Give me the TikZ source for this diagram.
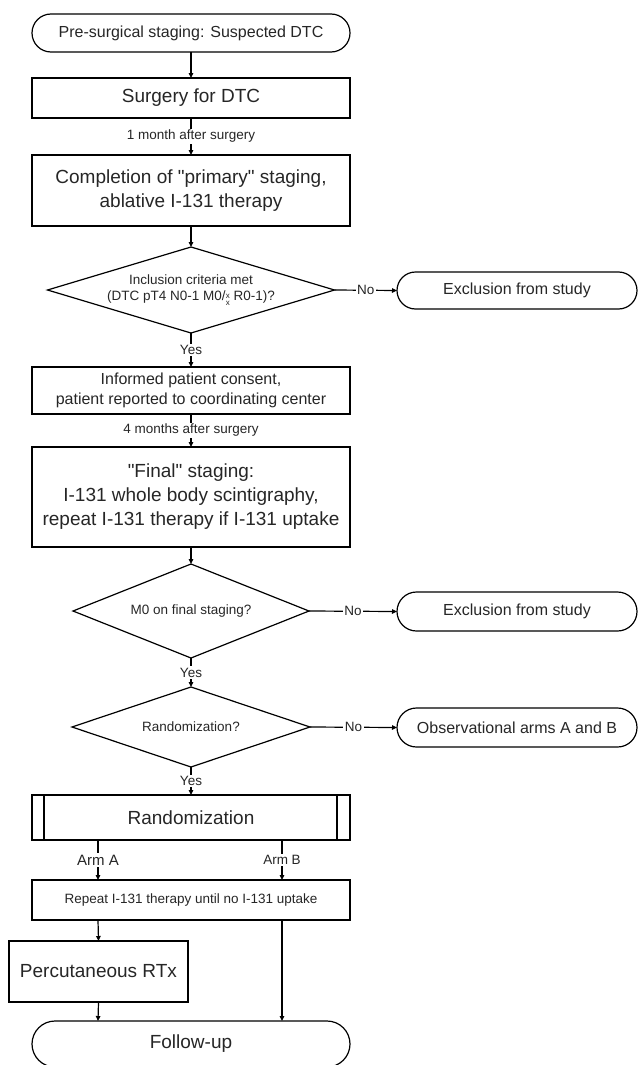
\documentclass[tikz,border=0pt]{standalone}
\usepackage{fontspec}
\setmainfont{Liberation Sans}[Ligatures=TeXOff]
\usetikzlibrary{shapes.geometric,shapes.misc,arrows.meta}
\tikzset{
  base/.style={draw=black, line width=1.2pt, inner sep=0pt, outer sep=0pt, align=center, text=black!85},
  boxnode/.style={base, rectangle, minimum width=318pt},
  termnode/.style={base, rounded rectangle, minimum width=240pt},
  decnode/.style={base, diamond, font=\fontsize{13.5}{16}\selectfont},
  bigfont/.style={font=\fontsize{19}{24}\selectfont},
  midfont/.style={font=\fontsize{16}{20}\selectfont},
  conn/.style={line width=1.2pt, -{Triangle[length=5pt,width=4.5pt]}},
  lab/.style={fill=white, inner sep=1.5pt, text=black!85, font=\fontsize{13.5}{16}\selectfont},
}
\begin{document}
\begin{tikzpicture}[x=1pt,y=-1pt]
\useasboundingbox (0,0) rectangle (638,1065);
\clip (0,0) rectangle (638,1065);
% nodes
\node[base, rounded rectangle, minimum width=318pt, minimum height=38pt, midfont] (pre) at (191,33) {Pre-surgical staging: Suspected DTC};
\node[boxnode, minimum height=40pt, bigfont] (surg) at (191,98) {Surgery for DTC};
\node[boxnode, minimum height=71pt, bigfont] (comp) at (191,190.5) {Completion of "primary" staging,\\ablative I-131 therapy};
\node[decnode, aspect=3.6, minimum width=287pt, minimum height=86pt] (d1) at (191,290) {Inclusion criteria met\\(DTC pT4 N0-1 M0/\raisebox{-5pt}{\fontsize{8}{8.5}\selectfont\shortstack{x\\x}} R0-1)?};
\node[termnode, minimum height=37pt, midfont] (ex1) at (517,290.5) {Exclusion from study};
\node[boxnode, minimum height=47pt, midfont] (inf) at (191,390.5) {Informed patient consent,\\patient reported to coordinating center};
\node[boxnode, minimum height=100pt, bigfont] (fin) at (191,497) {"Final" staging:\\I-131 whole body scintigraphy,\\repeat I-131 therapy if I-131 uptake};
\node[decnode, aspect=2.6, minimum width=236pt, minimum height=94pt] (d2) at (191,611) {M0 on final staging?};
\node[termnode, minimum height=39pt, midfont] (ex2) at (517,611.5) {Exclusion from study};
\node[decnode, aspect=3.1, minimum width=238pt, minimum height=80pt] (d3) at (191,727) {Randomization?};
\node[termnode, minimum height=39pt, midfont] (obs) at (517,727.5) {Observational arms A and B};
\node[boxnode, minimum height=45pt, bigfont] (rand) at (191,817.5) {Randomization};
\draw[line width=1.2pt] ([xshift=12pt]rand.north west) -- ([xshift=12pt]rand.south west);
\draw[line width=1.2pt] ([xshift=-13pt]rand.north east) -- ([xshift=-13pt]rand.south east);
\node[boxnode, minimum height=40pt, font=\fontsize{13.5}{16}\selectfont] (rep) at (191,900) {Repeat I-131 therapy until no I-131 uptake};
\node[base, rectangle, minimum width=179pt, minimum height=61pt, bigfont] (perc) at (98.5,971.5) {Percutaneous RTx};
\node[base, rounded rectangle, minimum width=318pt, minimum height=46pt, bigfont] (fol) at (191,1044) {Follow-up};
% helper coordinates for arm lines
\coordinate (rA) at (98,840);
\coordinate (rB) at (282,840);
\coordinate (pA) at (98,880);
\coordinate (pB) at (282,880);
\coordinate (qA) at (98,920);
\coordinate (qB) at (282,920);
\coordinate (fA) at (98,1021);
\coordinate (fB) at (282,1021);
% connectors
\draw[conn] (pre) -- (surg);
\draw[conn] (surg) -- node[lab] {1 month after surgery} (comp);
\draw[conn] (comp) -- (d1);
\draw[conn] (d1) -- node[lab] {Yes} (inf);
\draw[conn] (d1.east) -- node[lab] {No} (ex1.west);
\draw[conn] (inf) -- node[lab] {4 months after surgery} (fin);
\draw[conn] (fin) -- (d2);
\draw[conn] (d2) -- node[lab] {Yes} (d3);
\draw[conn] (d2.east) -- node[lab] {No} (ex2.west);
\draw[conn] (d3) -- node[lab] {Yes} (rand);
\draw[conn] (d3.east) -- node[lab] {No} (obs.west);
\draw[conn] (rA) -- node[lab, font=\fontsize{15}{18}\selectfont] {Arm A} (pA);
\draw[conn] (rB) -- node[lab] {Arm B} (pB);
\draw[conn] (qA) -- (perc.north);
\draw[conn] (qB) -- (fB);
\draw[conn] (perc.south) -- (fA);
\end{tikzpicture}
\end{document}
